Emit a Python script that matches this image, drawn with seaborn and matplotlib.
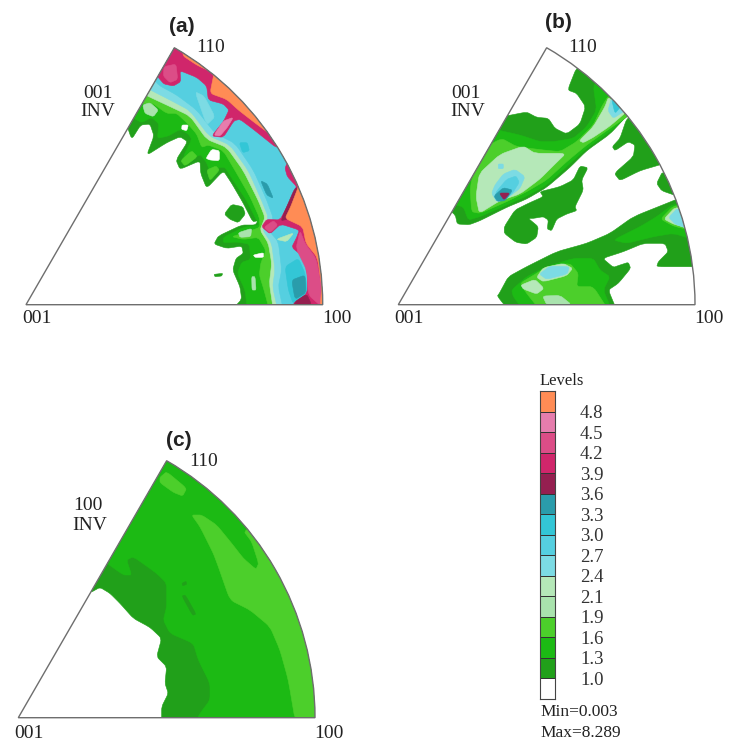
import numpy as np
import matplotlib
matplotlib.use("Agg")
import matplotlib.pyplot as plt
from matplotlib.colors import ListedColormap
from matplotlib.patches import PathPatch, Wedge
from matplotlib.path import Path
import seaborn as sns

W, H = 729, 740

level_labels = ["4.8", "4.5", "4.2", "3.9", "3.6", "3.3", "3.0", "2.7", "2.4", "2.1", "1.9", "1.6", "1.3", "1.0"]
level_colors = ["#ffffff", "#21a01a", "#1cba14", "#4ccf2b", "#a9e3ad", "#b5e8b8",
                "#7cdbe4", "#55cfe0", "#33c6d6", "#2a9cab", "#951f50",
                "#d0266b", "#dc4d87", "#e67dad", "#ff8c55"]
level_min = "Min=0.003"
level_max = "Max=8.289"

# contour outlines (x, y on a 890 unit radius crop)
far_a = [(1100, 960), (1100, 50), (300, 0)]
a_l1 = [(345, 330), (365, 388), (392, 345), (420, 342), (432, 378), (410, 436), (470, 398), (510, 380), (533, 395),
        (498, 450), (510, 478), (570, 452), (572, 490), (590, 535), (640, 482), (665, 520), (700, 580), (728, 635),
        (745, 632), (735, 645), (695, 645), (625, 678), (612, 702), (650, 715), (695, 708), (700, 730), (678, 745),
        (668, 780), (690, 830), (695, 868), (665, 900)] + far_a
a_l2 = [(350, 300), (372, 325), (395, 338), (425, 322), (447, 342), (442, 385), (475, 378), (510, 358), (535, 372),
        (545, 388), (520, 440), (528, 465), (570, 432), (590, 458), (605, 500), (625, 472), (645, 472), (670, 512),
        (710, 572), (738, 628), (748, 645), (700, 652), (640, 682), (640, 698), (680, 696), (718, 702), (722, 748),
        (695, 757), (682, 790), (705, 840), (712, 900)] + far_a
a_l3 = [(360, 260), (395, 282), (425, 278), (470, 310), (500, 310), (530, 338), (560, 372), (575, 412), (595, 405),
        (640, 422), (680, 490), (720, 560), (748, 622), (750, 652), (705, 668), (665, 680), (700, 688), (745, 682),
        (768, 722), (752, 760), (748, 795), (762, 840), (778, 900)] + far_a
a_l5 = [(385, 240), (412, 258), (470, 285), (540, 318), (590, 388), (650, 412), (700, 482), (745, 572), (765, 622),
        (750, 660), (775, 700), (785, 760), (778, 820), (790, 900)] + far_a
a_l6 = [(395, 225), (425, 242), (480, 270), (540, 302), (597, 378), (660, 405), (715, 482), (755, 572), (775, 622),
        (758, 660), (785, 700), (795, 780), (788, 830), (803, 900)] + far_a
a_l7 = [(420, 190), (445, 225), (500, 255), (560, 300), (615, 370), (675, 400), (730, 480), (770, 570), (790, 625),
        (775, 660), (805, 695), (815, 780), (805, 830), (820, 900)] + far_a
a_pale_1 = [(398, 285), (420, 278), (445, 300), (430, 320), (405, 310)]
a_pale_2 = [(685, 668), (725, 655), (722, 680), (690, 682)]
a_pale_3 = [(725, 800), (735, 800), (738, 840), (726, 840)]
a_pale_4 = [(798, 688), (852, 668), (830, 695)]
a_bright_1 = [(590, 480), (618, 468), (628, 480), (600, 512)]
a_bright_2 = [(512, 452), (545, 422), (562, 440), (525, 468)]
a_streak_1 = [(555, 245), (582, 258), (615, 320), (590, 345)]
a_streak_2 = [(688, 398), (712, 398), (718, 422), (698, 428)]
a_streak_3 = [(752, 512), (772, 522), (790, 565), (770, 555)]
a_low_1 = [(825, 770), (865, 745), (885, 790), (892, 850), (850, 882), (835, 840)]
a_low_2 = [(845, 810), (885, 795), (888, 848), (855, 868)]
a_mag_top = [(430, 180), (447, 205), (462, 222), (490, 228), (512, 215), (510, 182), (560, 202), (590, 228), (595, 270),
             (640, 282), (657, 300), (640, 335), (605, 378), (640, 382), (672, 332), (690, 328), (730, 358), (805, 418),
             (950, 400), (950, 0), (400, 0)]
a_mag_right = [(830, 462), (825, 475), (832, 500), (862, 532), (835, 582), (810, 630), (770, 628), (755, 650),
               (780, 672), (812, 642), (868, 660), (860, 682), (845, 712), (882, 742), (892, 790), (892, 850),
               (850, 880), (850, 900), (1050, 950), (1050, 400), (850, 440)]
a_dark_1 = [(855, 875), (890, 852), (905, 885), (850, 900)]
a_dark_2 = [(856, 530), (872, 545), (832, 628), (812, 632)]
a_pink_1 = [(462, 170), (498, 162), (503, 208), (480, 218), (460, 198)]
a_pink_2 = [(612, 375), (640, 333), (670, 322), (652, 352), (630, 378)]
a_pink_3 = [(762, 652), (790, 632), (803, 645), (780, 668)]
a_pink_4 = [(870, 662), (885, 700), (918, 745), (935, 830), (935, 890), (895, 855), (890, 780), (858, 715)]
a_orange_1 = [(515, 135), (560, 165), (612, 190), (600, 250), (650, 268), (685, 300), (730, 335), (790, 380),
              (950, 100), (540, 50)]
a_orange_2 = [(862, 538), (842, 590), (825, 625), (878, 650), (888, 700), (922, 742), (935, 830), (930, 900),
              (1050, 920), (1050, 500), (880, 490)]
a_hole_1 = [(516, 345), (535, 345), (530, 362), (515, 358)]
a_hole_2 = [(588, 445), (605, 418), (628, 422), (628, 452), (600, 450)]
a_hole_3 = [(730, 735), (760, 728), (760, 742), (735, 742)]
a_island_1 = [(643, 612), (665, 583), (698, 590), (706, 612), (685, 638), (660, 628)]
a_island_2 = [(612, 793), (638, 790), (635, 798), (615, 800)]

b_top_l1 = [(350, 300), (378, 318), (440, 306), (470, 322), (505, 325), (525, 355), (560, 372), (600, 342), (617, 290),
            (590, 250), (563, 240), (590, 172), (700, 100), (900, 250), (742, 316), (690, 372), (620, 422), (570, 472),
            (500, 532), (440, 567), (380, 592), (300, 632), (268, 644), (232, 642), (226, 615), (195, 590)]
b_top_l2 = [(330, 355), (420, 375), (480, 395), (520, 395), (580, 385), (620, 350), (650, 300), (640, 228), (660, 200),
            (800, 250), (742, 318), (690, 365), (620, 415), (565, 465), (500, 525), (440, 558), (380, 585), (300, 620),
            (265, 630), (250, 590), (205, 580)]
b_top_l3 = [(300, 420), (365, 385), (410, 410), (490, 420), (540, 425), (590, 395), (640, 345), (665, 290), (685, 258),
            (705, 262), (745, 300), (742, 320), (690, 355), (620, 405), (560, 455), (500, 510), (440, 545), (380, 575),
            (300, 610), (275, 605), (270, 530)]
b_top_l5 = [(298, 490), (360, 433), (430, 408), (465, 430), (558, 430), (520, 467), (480, 507), (420, 552), (360, 572),
            (298, 610), (288, 560)]
b_tr_l5 = [(598, 392), (640, 350), (675, 290), (685, 262), (705, 278), (740, 305), (690, 348), (640, 382), (610, 398)]
b_tr_l6 = [(684, 302), (695, 262), (712, 280), (735, 302), (700, 325)]
b_tr_l8 = [(695, 268), (722, 290), (705, 310)]
b_spot_l6 = [(345, 525), (370, 492), (405, 478), (435, 500), (420, 535), (385, 562), (350, 575), (335, 550)]
b_spot_l7 = [(345, 550), (380, 508), (408, 498), (418, 517), (395, 553), (358, 575)]
b_spot_l9 = [(342, 558), (370, 533), (398, 540), (376, 572), (352, 574)]
b_spot_l10 = [(358, 549), (390, 549), (372, 570)]
b_dot = [(355, 462), (370, 462), (370, 476), (355, 476)]
b_right_1 = [(738, 332), (720, 385), (697, 410), (705, 422), (745, 395), (765, 405), (760, 440), (703, 490), (720, 512),
             (780, 482), (838, 465), (950, 430), (800, 300), (750, 318)]
b_right_2 = [(848, 484), (830, 520), (845, 542), (888, 557), (960, 510)]
b_mid = [(600, 468), (624, 473), (605, 510), (610, 540), (585, 590), (590, 602), (560, 612), (530, 627), (515, 662),
         (502, 657), (505, 630), (490, 620), (460, 625), (445, 625), (475, 650), (470, 682), (440, 702), (408, 697),
         (373, 670), (373, 650), (405, 600), (445, 580), (490, 560), (480, 545), (540, 530), (580, 510)]
b_low_l1 = [(358, 850), (385, 800), (440, 770), (530, 725), (620, 700), (690, 670), (760, 620), (885, 570), (980, 530),
            (1050, 770), (938, 770), (830, 770), (835, 755), (865, 725), (855, 700), (790, 700), (730, 725), (668, 745),
            (700, 772), (720, 765), (745, 757), (752, 775), (715, 820), (685, 840), (710, 900), (385, 900), (352, 858)]
b_low_l2 = [(395, 840), (440, 800), (500, 770), (580, 745), (640, 745), (660, 780), (690, 800), (670, 840), (695, 900),
            (430, 900), (400, 860)]
b_low_l3 = [(420, 820), (470, 790), (500, 770), (570, 760), (595, 790), (590, 830), (640, 830), (685, 900), (480, 900),
            (440, 850)]
b_low_l5_1 = [(470, 802), (490, 773), (550, 760), (578, 775), (560, 797), (490, 815)]
b_low_l5_2 = [(423, 825), (465, 808), (492, 835), (470, 852), (430, 837)]
b_low_l5_3 = [(488, 858), (540, 856), (575, 884), (500, 884)]
b_low_l6 = [(478, 792), (510, 768), (568, 770), (562, 792), (500, 808)]
b_edge_l2 = [(700, 690), (780, 650), (830, 620), (880, 582), (930, 590), (945, 690), (880, 670), (820, 680), (740, 700)]
b_edge_l3 = [(842, 627), (880, 588), (925, 585), (930, 660), (880, 648)]
b_edge_l5 = [(852, 627), (885, 592), (925, 600), (925, 655), (880, 642)]
b_edge_l6 = [(866, 622), (893, 594), (925, 615), (920, 655), (885, 642)]

far_c = [(1100, 960), (1100, 60)]
c_l1 = [(225, 510), (243, 517), (270, 502), (300, 520), (330, 550), (370, 595), (420, 622), (455, 655), (440, 710),
        (470, 740), (465, 790), (475, 820), (455, 860), (455, 910)] + far_c + [(300, 40)]
c_l2 = [(270, 415), (340, 465), (365, 465), (350, 420), (370, 410), (440, 460), (470, 490), (470, 560), (460, 600),
        (480, 640), (550, 670), (565, 720), (600, 790), (600, 840), (570, 880), (555, 910)] + far_c + [(300, 40)]
c_l3 = [(545, 285), (575, 285), (620, 315), (665, 370), (700, 415), (738, 448), (746, 430), (725, 365), (700, 332),
        (850, 250), (1050, 400), (1050, 910), (857, 910), (835, 780), (810, 690), (780, 620), (720, 570), (660, 540),
        (625, 440), (610, 400), (570, 320)]
c_l3_tip = [(450, 172), (470, 155), (530, 205), (518, 228), (490, 217), (450, 188)]
c_dash_1 = [(516, 490), (528, 484), (530, 493), (518, 497)]
c_dash_2 = [(516, 528), (526, 525), (558, 582), (548, 586)]

# level and outline of each layer, from back to front
panel_a = [(1, a_l1), (2, a_l2), (3, a_l3), (4, a_pale_1), (3, a_bright_1), (3, a_bright_2), (4, a_pale_3),
           (5, a_l5), (4, a_pale_2), (6, a_l6), (7, a_l7), (6, a_streak_1), (8, a_streak_2), (9, a_streak_3),
           (8, a_low_1), (9, a_low_2), (5, a_pale_4), (11, a_mag_top), (11, a_mag_right), (10, a_dark_1),
           (10, a_dark_2), (12, a_pink_1), (13, a_pink_2), (12, a_pink_3), (12, a_pink_4), (14, a_orange_1),
           (14, a_orange_2), (0, a_hole_1), (0, a_hole_2), (0, a_hole_3), (1, a_island_1), (1, a_island_2)]
panel_b = [(1, b_top_l1), (2, b_top_l2), (3, b_top_l3), (5, b_top_l5), (5, b_tr_l5), (6, b_tr_l6), (8, b_tr_l8),
           (6, b_spot_l6), (7, b_spot_l7), (9, b_spot_l9), (10, b_spot_l10), (6, b_dot), (1, b_right_1), (1, b_right_2),
           (1, b_mid), (1, b_low_l1), (2, b_low_l2), (3, b_low_l3), (5, b_low_l5_1), (5, b_low_l5_2), (4, b_low_l5_3),
           (6, b_low_l6), (2, b_edge_l2), (3, b_edge_l3), (5, b_edge_l5), (6, b_edge_l6)]
panel_c = [(1, c_l1), (2, c_l2), (3, c_l3), (3, c_l3_tip), (1, c_dash_1), (1, c_dash_2)]


def px_rect(left, top, width, height):
    return [left / W, 1 - (top + height) / H, width / W, height / H]


def outline_path(points, x0, y0, cut=0.22):
    # straight runs with only the corners rounded
    pts = np.array(points, dtype=float)
    pts = np.column_stack([(pts[:, 0] - x0) / 890, (y0 - pts[:, 1]) / 890])
    prev_pts = np.roll(pts, 1, axis=0)
    next_pts = np.roll(pts, -1, axis=0)
    verts, codes = [], []
    for p, a, b in zip(pts, prev_pts, next_pts):
        verts += [p + cut * (a - p), p, p + cut * (b - p)]
        codes += [Path.LINETO, Path.CURVE3, Path.CURVE3]
    codes[0] = Path.MOVETO
    verts.append(verts[0])
    codes.append(Path.LINETO)
    return Path(verts, codes)


def draw_panel(fig, corner, layers, x0, y0, colors):
    # corner is the pixel position of the 001 pole, radius is 296.7 px
    r = 296.7
    pad = 0.06
    ax = fig.add_axes(px_rect(corner[0] - pad * r, corner[1] - (np.sin(np.pi / 3) + pad) * r,
                              (1 + 2 * pad) * r, (np.sin(np.pi / 3) + 2 * pad) * r))
    ax.set_xlim(-pad, 1 + pad)
    ax.set_ylim(-pad, np.sin(np.pi / 3) + pad)
    ax.axis("off")
    sector = Wedge((0, 0), 1, 0, 60, facecolor="white", edgecolor="none")
    ax.add_patch(sector)
    for level, points in layers:
        c = colors[level]
        patch = PathPatch(outline_path(points, x0, y0), facecolor=c, edgecolor=c, lw=0.4)
        ax.add_patch(patch)
        patch.set_clip_path(sector)
    ax.add_patch(Wedge((0, 0), 1, 0, 60, facecolor="none", edgecolor="#6e6e6e", lw=1.0))


def label(fig, x, y, s, **kw):
    fig.text(x / W, 1 - y / H, s, va="center", color="#222222", **kw)


sns.set_theme(style="white")
plt.rcParams["font.family"] = ["Liberation Serif", "DejaVu Serif"]
palette = sns.color_palette(level_colors)

fig = plt.figure(figsize=(W / 100, H / 100), dpi=100)

draw_panel(fig, (26, 304.7), panel_a, 48, 884, palette)
draw_panel(fig, (398.3, 304.7), panel_b, 55, 884, palette)
draw_panel(fig, (18.3, 717.7), panel_c, 25, 893, palette)

serif = 14
# panel (a)
label(fig, 182, 27, "(a)", family="Liberation Sans", weight="bold", size=15, ha="center")
label(fig, 211, 48, "110", size=serif, ha="center")
label(fig, 98, 93, "001", size=serif, ha="center")
label(fig, 98, 112, "INV", size=serif, ha="center")
label(fig, 37, 318, "001", size=serif, ha="center")
label(fig, 337, 318, "100", size=serif, ha="center")
# panel (b)
label(fig, 558, 23, "(b)", family="Liberation Sans", weight="bold", size=15, ha="center")
label(fig, 583, 48, "110", size=serif, ha="center")
label(fig, 466, 93, "001", size=serif, ha="center")
label(fig, 468, 112, "INV", size=serif, ha="center")
label(fig, 409, 318, "001", size=serif, ha="center")
label(fig, 709, 318, "100", size=serif, ha="center")
# panel (c)
label(fig, 179, 441, "(c)", family="Liberation Sans", weight="bold", size=15, ha="center")
label(fig, 204, 461, "110", size=serif, ha="center")
label(fig, 88, 506, "100", size=serif, ha="center")
label(fig, 90, 525, "INV", size=serif, ha="center")
label(fig, 29, 733, "001", size=serif, ha="center")
label(fig, 329, 733, "100", size=serif, ha="center")

# level key
cbar_ax = fig.add_axes(px_rect(540, 391, 15, 308))
order = np.arange(len(level_colors))[::-1].reshape(-1, 1)
sns.heatmap(order, ax=cbar_ax, cmap=ListedColormap(palette), cbar=False, vmin=-0.5, vmax=len(level_colors) - 0.5,
            linewidths=0.7, linecolor="#333333", xticklabels=False)
cbar_ax.set_yticks(np.arange(1, len(level_labels) + 1))
cbar_ax.set_yticklabels(level_labels, rotation=0, size=13.5, color="#333333")
cbar_ax.tick_params(axis="y", length=0, pad=18, labelleft=False, labelright=True)
for s in cbar_ax.spines.values():
    s.set_visible(True)
    s.set_color("#444444")
    s.set_linewidth(0.8)

label(fig, 540, 381, "Levels", size=12, ha="left")
label(fig, 540, 712, level_min, size=12.5, ha="left")
label(fig, 540, 733, level_max, size=12.5, ha="left")

fig.savefig("out.png", dpi=100, facecolor="white")
